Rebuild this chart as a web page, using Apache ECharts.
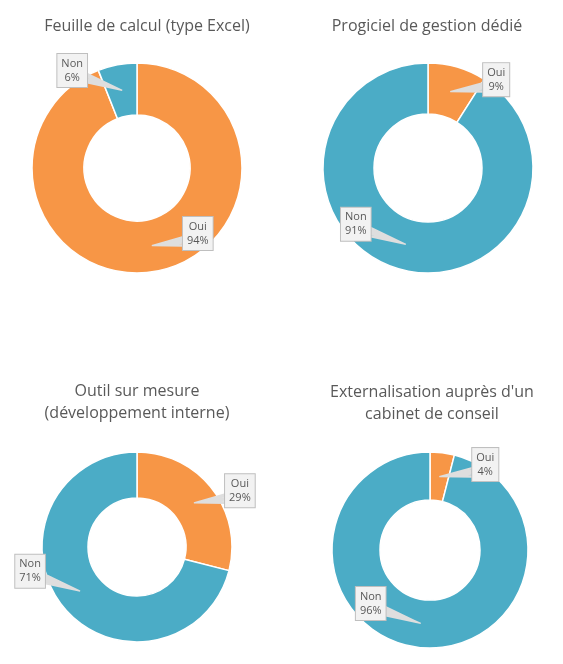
<!DOCTYPE html>
<html>
<head>
<meta charset="utf-8">
<script src="https://cdn.jsdelivr.net/npm/echarts@6/dist/echarts.min.js"></script>
<style>
  html, body { margin: 0; padding: 0; background: #fff; }
  #chart { width: 563px; height: 664px; }
</style>
</head>
<body>
<div id="chart"></div>
<script>
// survey answers, one donut per tool
const answers = ['Oui', 'Non'];
const questions = [
    'Feuille de calcul (type Excel)',
    'Progiciel de gestion dédié',
    'Outil sur mesure\n(développement interne)',
    "Externalisation auprès d'un\ncabinet de conseil"
];
const ouiPct = [94, 9, 29, 4];
const nonPct = [6, 91, 71, 96];

const colors = ['#F79646', '#4BACC6'];

// layout of the 2x2 grid (pixels)
const centers = [[137, 168], [428, 168], [137, 547], [430, 550]];
const radii = [[53, 105], [54, 105], [49, 95], [50, 98]];
const titlePos = [[147, 15], [427, 15], [137, 380], [432, 381]];
// callout box offset from the slice anchor, per answer
const calloutOffset = { Oui: [46, -12], Non: [-50, -20] };

const chart = echarts.init(document.getElementById('chart'));

function seriesData(k) {
    return [
        { name: answers[0], value: ouiPct[k] },
        { name: answers[1], value: nonPct[k] }
    ];
}

// point in the middle of the ring, at the middle angle of the slice
function sliceAnchor(k, idx) {
    const vals = [ouiPct[k], nonPct[k]];
    const total = vals[0] + vals[1];
    let before = 0;
    for (let i = 0; i < idx; i++) before += vals[i];
    const theta = (before + vals[idx] / 2) / total * 2 * Math.PI;
    const rMid = (radii[k][0] + radii[k][1]) / 2;
    return [centers[k][0] + rMid * Math.sin(theta), centers[k][1] - rMid * Math.cos(theta)];
}

function calloutLayout(params) {
    const k = params.seriesIndex % questions.length;
    const idx = params.dataIndex;
    const off = calloutOffset[answers[idx]];
    const a = sliceAnchor(k, idx);
    const bx = a[0] + off[0];
    const by = a[1] + off[1];
    const halfW = params.labelRect ? params.labelRect.width / 2 : 15;
    const ex = bx - Math.sign(off[0]) * (halfW - 1);
    // fan of lines from the tip to the box edge, looks like a wedge
    const pts = [];
    for (let i = 0; i <= 8; i++) {
        pts.push([a[0], a[1]]);
        pts.push([ex, by + 3 + i * 1.2]);
    }
    return {
        x: bx,
        y: by,
        align: 'center',
        verticalAlign: 'middle',
        labelLinePoints: pts
    };
}

// the donuts themselves
const donuts = questions.map((q, k) => ({
    type: 'pie',
    z: 2,
    center: centers[k],
    radius: radii[k],
    startAngle: 90,
    clockwise: true,
    silent: true,
    itemStyle: { borderColor: '#fff', borderWidth: 1.5 },
    label: { show: false },
    labelLine: { show: false },
    data: seriesData(k)
}));

// same donuts, transparent, on top: they carry the callouts
const callouts = questions.map((q, k) => ({
    type: 'pie',
    z: 5,
    center: centers[k],
    radius: radii[k],
    startAngle: 90,
    clockwise: true,
    avoidLabelOverlap: false,
    silent: true,
    itemStyle: { color: 'rgba(0,0,0,0)', borderWidth: 0 },
    label: {
        show: true,
        position: 'outside',
        formatter: '{b}\n{c}%',
        fontFamily: 'Open Sans',
        fontSize: 11,
        lineHeight: 14,
        color: '#595959',
        backgroundColor: '#f2f2f2',
        borderColor: '#bfbfbf',
        borderWidth: 1,
        padding: [3, 4, 2, 4],
        align: 'center'
    },
    labelLine: {
        show: true,
        showAbove: true,
        length: 5,
        length2: 5,
        lineStyle: { color: '#dedede', width: 1.2 }
    },
    labelLayout: calloutLayout,
    data: seriesData(k)
}));

const option = {
    animation: false,
    color: colors,
    title: questions.map((q, k) => ({
        text: q,
        left: titlePos[k][0],
        top: titlePos[k][1],
        padding: 0,
        textAlign: 'center',
        textStyle: {
            fontFamily: 'Open Sans',
            fontSize: 16,
            fontWeight: 'normal',
            color: '#595959',
            lineHeight: 22
        }
    })),
    series: donuts.concat(callouts)
};

chart.setOption(option);
</script>
</body>
</html>
